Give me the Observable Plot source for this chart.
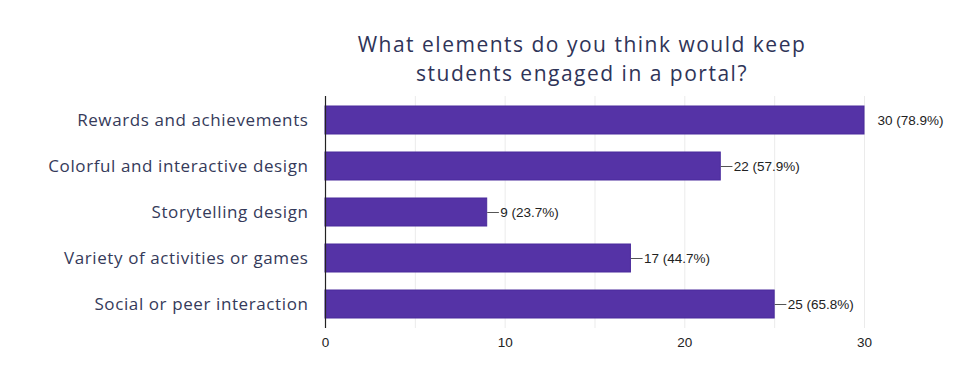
<!DOCTYPE html>
<html>
<head>
<meta charset="utf-8">
<script src="https://cdn.jsdelivr.net/npm/d3@7"></script>
<script src="https://cdn.jsdelivr.net/npm/@observablehq/plot@0.6"></script>
<style>
  body { margin: 0; background: #fff; width: 980px; height: 380px; overflow: hidden; }
  #title { height: 92px; box-sizing: border-box; padding-top: 30px; padding-left: 184px; text-align: center;
    font-family: "Open Sans", sans-serif; font-size: 21px; line-height: 28.8px; color: #2f3458; letter-spacing: 1.5px; }
  #title div { white-space: nowrap; }
  #chart svg { display: block; }
</style>
</head>
<body>
<div id="title"><div>What elements do you think would keep</div><div>students engaged in a portal?</div></div>
<div id="chart"></div>
<script>
const categories = ["Rewards and achievements", "Colorful and interactive design", "Storytelling design", "Variety of activities or games", "Social or peer interaction"];
const counts = [30, 22, 9, 17, 25];
const percents = ["78.9%", "57.9%", "23.7%", "44.7%", "65.8%"];
const xTicks = [0, 10, 20, 30];
const gridTicks = [5, 10, 15, 20, 25, 30];

const data = categories.map((c, i) => ({category: c, count: counts[i], label: `${counts[i]} (${percents[i]})`}));
const maxCount = d3.max(counts);

const chart = Plot.plot({
  width: 980,
  height: 288,
  marginLeft: 325,
  marginRight: 116,
  marginTop: 4,
  marginBottom: 52,
  style: {fontFamily: "Liberation Sans, Arial, sans-serif", fontSize: "13.5px", color: "#222"},
  x: {domain: [0, 30], label: null},
  y: {domain: categories, label: null, paddingInner: 0.39, paddingOuter: 0.2},
  marks: [
    Plot.ruleX(gridTicks, {stroke: "#ebebeb", strokeWidth: 1}),
    Plot.ruleY([0], {frameAnchor: "bottom", stroke: "#e4e4e4"}),
    Plot.barX(data, {x: "count", y: "category", fill: "#5533a6", stroke: "#4a2b9c", strokeWidth: 1}),
    Plot.link(data.filter(d => d.count < maxCount), {x1: "count", x2: d => d.count + 0.65, y1: "category", y2: "category", stroke: "#555", strokeWidth: 1}),
    Plot.text(data, {x: "count", y: "category", text: "label", textAnchor: "start", dx: 13, fill: "#222", fontSize: 13.5}),
    Plot.ruleX([0], {stroke: "#222", strokeWidth: 1.2}),
    Plot.axisX({ticks: xTicks, tickSize: 0, tickPadding: 9, tickFormat: d => d, fontSize: 13.5, fill: "#222"}),
    Plot.axisY({tickSize: 0, tickPadding: 17, fontSize: 17, fontFamily: "Open Sans, sans-serif", fill: "#353a5a"})
  ]
});
chart.querySelectorAll("[aria-label='y-axis tick label'] text").forEach(t => t.setAttribute("letter-spacing", "0.6"));
document.getElementById("chart").append(chart);
</script>
</body>
</html>
